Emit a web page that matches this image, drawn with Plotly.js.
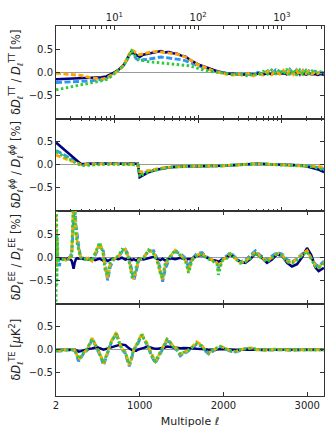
<!DOCTYPE html>
<html><head><meta charset="utf-8">
<script src="https://cdn.plot.ly/plotly-3.0.1.min.js"></script>
<style>html,body{margin:0;padding:0;background:#fff}#chart{width:333px;height:439px}</style>
</head><body><div id="chart"></div>
<script>
// ---- Panel 1: TT (log multipole axis) ----
const ellTT = [2,3,4,5,6,7,8,9,10,11,12,13,14,15,16,17,18,20,22,25,28,32,36,40,45,50,56,63,70,80,90,100,115,130,150,175,200,230,260,300,350,400,460,520,600,680,760,850,950,1050,1150,1250,1380,1500,1650,1800,1950,2100,2300,2500,2700,2900,3100,3200];
const ttNavy = [-0.15,-0.14,-0.13,-0.13,-0.12,-0.11,-0.09,-0.05,0.0,0.04,0.10,0.17,0.27,0.38,0.44,0.42,0.38,
  0.33,0.38,0.40,0.42,0.44,0.46,0.43,0.44,0.41,0.40,0.36,0.34,0.27,0.21,0.17,
  0.13,0.09,0.05,0.01,-0.01,-0.03,-0.03,-0.05,
  -0.05,-0.04,-0.06,-0.03,-0.05,-0.02,-0.04,-0.01,-0.03,
  -0.02,-0.04,-0.01,-0.03,-0.02,-0.04,-0.03,-0.05,-0.03,-0.05,-0.04,-0.06,-0.04,-0.05,-0.06];
const ttOrange = [-0.02,-0.04,-0.07,-0.11,-0.14,-0.15,-0.13,-0.08,-0.02,0.03,0.09,0.17,0.28,0.40,0.48,0.46,0.42,
  0.38,0.40,0.42,0.44,0.45,0.44,0.42,0.41,0.40,0.39,0.36,0.33,0.27,0.21,0.16,
  0.12,0.08,0.03,0.0,-0.03,-0.05,-0.06,-0.04,
  -0.07,-0.03,-0.08,-0.02,-0.06,0.02,-0.05,0.03,-0.04,
  0.04,-0.06,0.03,-0.05,0.04,-0.07,0.03,-0.03,0.02,-0.04,0.01,-0.03,0.0,-0.02,-0.03];
const ttBlue = [-0.22,-0.21,-0.2,-0.19,-0.17,-0.16,-0.13,-0.07,-0.01,0.03,0.09,0.16,0.26,0.36,0.44,0.38,0.30,
  0.24,0.27,0.28,0.30,0.32,0.33,0.32,0.31,0.30,0.28,0.27,0.25,0.21,0.17,0.13,
  0.1,0.07,0.04,0.01,-0.01,-0.03,-0.04,-0.03,
  -0.04,-0.02,-0.05,0.0,-0.04,0.03,-0.03,0.05,-0.02,
  0.05,-0.03,0.06,-0.04,0.05,-0.05,0.04,-0.02,0.03,-0.03,0.02,-0.02,0.01,-0.01,-0.02];
const ttGreen = [-0.38,-0.31,-0.27,-0.24,-0.21,-0.19,-0.16,-0.1,-0.03,0.02,0.08,0.15,0.26,0.38,0.46,0.40,0.32,
  0.27,0.25,0.23,0.22,0.21,0.20,0.20,0.19,0.19,0.18,0.17,0.16,0.14,0.11,0.08,
  0.05,0.03,0.01,0.0,-0.02,-0.03,-0.05,-0.04,
  -0.05,-0.09,-0.03,-0.07,0.02,-0.04,0.05,-0.03,0.06,
  -0.05,0.07,-0.06,0.06,-0.07,0.05,-0.04,0.04,-0.03,0.03,-0.02,0.02,-0.01,0.0,-0.01];

// ---- Panel 2: lensing potential (log multipole axis) ----
const ellPP = [2,4,5,6,8,10,12,14,16,18,19,20,22,25,30,35,40,50,60,70,80,100,130,160,200,250,300,400,500,700,1000,1300,1600,2000,2400,2800,3200];
const ppNavy = [0.48,0.01,0.02,0.02,0.03,0.03,0.03,0.02,0.02,0.02,0.02,-0.27,-0.22,-0.17,-0.12,-0.09,-0.07,-0.05,-0.04,-0.03,-0.03,-0.03,-0.03,-0.02,-0.02,-0.01,0.0,0.02,0.02,0.01,0.0,-0.01,-0.01,-0.04,-0.07,-0.11,-0.16];
const ppOrange = [0.21,0.0,0.01,0.02,0.02,0.02,0.02,0.01,0.01,0.01,0.01,-0.15,-0.15,-0.13,-0.1,-0.08,-0.06,-0.05,-0.04,-0.03,-0.03,-0.03,-0.02,-0.02,-0.02,-0.01,0.0,0.02,0.02,0.01,0.0,-0.01,-0.01,-0.02,-0.03,-0.04,-0.06];
const ppBlue = [0.31,0.01,0.02,0.03,0.03,0.03,0.03,0.02,0.02,0.02,0.02,-0.22,-0.19,-0.15,-0.11,-0.08,-0.07,-0.05,-0.04,-0.03,-0.03,-0.03,-0.02,-0.02,-0.02,-0.01,0.0,0.02,0.02,0.01,0.0,-0.01,-0.01,-0.02,-0.04,-0.06,-0.09];
const ppGreen = [0.28,-0.02,-0.01,0.0,0.01,0.01,0.01,0.0,0.0,0.0,0.0,-0.26,-0.2,-0.16,-0.12,-0.09,-0.07,-0.05,-0.04,-0.03,-0.03,-0.03,-0.03,-0.02,-0.02,-0.01,0.0,0.02,0.02,0.01,0.0,-0.01,-0.02,-0.03,-0.05,-0.08,-0.11];

// ---- Panel 3: EE (linear multipole axis) ----
const ellEE = [2,4,6,9,13,18,25,40,
  60,90,120,150,175,190,200,212,225,240,255,272,292,
  331,391,431,471,522,563,590,618,650,690,749,789,829,868,909,930,960,988,1047,1107,1167,1215,1247,1274,1306,1366,1425,1485,1545,1584,
  1625,1684,1744,1804,1864,1923,1940,1983,2043,2082,2142,2201,2261,2321,2381,2440,2520,2580,2640,2699,2759,2818,2878,2938,2997,3048,3096,3136,3200];
const eeNavy = [0.0,-0.03,0.0,-0.02,0.0,-0.03,-0.02,-0.03,
  -0.03,-0.02,-0.04,-0.03,-0.05,-0.08,-0.15,-0.25,-0.12,-0.04,-0.02,-0.03,-0.02,
  -0.03,-0.05,-0.02,-0.06,-0.03,-0.07,-0.04,-0.08,-0.05,-0.02,-0.04,-0.01,-0.05,-0.03,-0.06,-0.04,-0.07,-0.03,-0.05,-0.02,0.01,-0.04,-0.06,-0.03,-0.07,-0.02,-0.04,-0.01,-0.05,-0.04,
  -0.04,0.03,0.05,-0.01,-0.06,-0.08,-0.1,-0.05,0.0,0.06,-0.02,-0.1,-0.12,-0.04,0.08,0.02,-0.12,-0.05,0.06,0.03,-0.12,-0.2,-0.15,0.0,0.2,0.05,-0.22,-0.3,-0.23];
const eeOrange = [0.9,-0.3,0.7,-0.1,0.4,0.1,-0.05,-0.05,
  -0.05,-0.04,-0.06,-0.03,0.0,0.05,0.7,1.3,1.1,0.55,0.35,0.2,0.02,
  -0.05,-0.02,-0.08,0.09,0.3,0.12,-0.26,-0.45,-0.12,-0.04,0.02,0.15,0.17,0.0,-0.4,-0.47,-0.22,-0.05,-0.02,0.15,0.1,-0.1,-0.32,-0.5,-0.15,0.02,0.15,0.05,-0.05,-0.3,
  -0.05,0.05,0.08,-0.02,-0.05,-0.12,-0.3,-0.06,0.0,0.08,-0.02,-0.12,-0.08,0.0,0.12,0.02,-0.08,0.0,0.08,0.05,-0.08,-0.12,-0.04,0.05,0.14,-0.02,-0.18,-0.22,-0.1];
const eeBlue = [0.5,-0.1,0.6,-0.2,0.3,0.0,-0.05,-0.19,
  -0.06,-0.03,-0.05,-0.02,0.02,0.1,0.6,1.2,1.25,0.7,0.45,0.25,0.05,
  -0.04,0.0,-0.06,0.05,0.25,0.18,-0.15,-0.5,-0.2,-0.05,0.0,0.12,0.17,0.05,-0.3,-0.5,-0.3,-0.08,0.0,0.13,0.14,-0.05,-0.25,-0.53,-0.25,0.0,0.12,0.08,-0.02,-0.22,
  -0.03,0.08,0.1,0.0,-0.04,-0.1,-0.25,-0.03,0.03,0.1,0.0,-0.1,-0.06,0.03,0.14,0.04,-0.06,0.03,0.1,0.07,-0.05,-0.1,-0.03,0.07,0.16,0.0,-0.15,-0.2,-0.08];
const eeGreen = [-1.5,1.5,-1.2,0.9,-0.6,0.5,-0.1,-0.05,
  -0.04,-0.05,-0.06,-0.04,-0.02,0.03,0.8,1.4,1.05,0.5,0.3,0.18,0.0,
  -0.06,-0.03,-0.08,0.1,0.32,0.1,-0.3,-0.4,-0.1,-0.03,0.03,0.17,0.14,-0.03,-0.42,-0.4,-0.18,-0.04,-0.03,0.16,0.08,-0.12,-0.35,-0.45,-0.12,0.03,0.16,0.03,-0.06,-0.34,
  -0.07,0.03,0.07,-0.03,-0.07,-0.15,-0.38,-0.08,-0.02,0.07,-0.04,-0.13,-0.1,-0.02,0.1,0.0,-0.1,-0.02,0.07,0.03,-0.1,-0.13,-0.06,0.04,0.12,-0.04,-0.2,-0.24,-0.12];

// ---- Panel 4: TE (linear multipole axis) ----
const ellTE = [2,50,100,150,200,232,252,272,300,331,372,400,432,460,491,530,570,600,640,670,700,722,750,770,800,830,855,877,900,930,960,976,1000,1028,1050,1080,1110,1140,1187,1220,1260,1300,1327,1360,1400,1446,1485,1520,1565,1620,1680,1740,1790,1823,1880,1961,2020,2080,2142,2200,2260,2330,2400,2500,2600,2700,2800,2900,3000,3100,3200];
const teNavy = [0.0,0.0,0.0,0.0,0.0,0.0,-0.02,-0.04,-0.03,-0.01,
  0.0,0.02,0.03,0.05,0.06,0.03,0.0,0.02,0.04,0.05,
  0.06,0.07,0.1,0.12,0.11,0.1,0.06,0.02,0.0,-0.02,
  -0.02,0.0,0.02,0.03,0.04,0.06,0.06,0.04,0.02,0.02,
  0.03,0.05,0.07,0.06,0.05,0.03,0.03,0.04,0.04,0.03,
  0.02,0.02,0.01,0.0,0.01,0.01,0.01,0.0,0.0,0.0,
  0.0,0.0,0.0,0.0,0.0,0.0,0.0,0.0,0.0,0.0,0.0];
const teOrange = [0.0,-0.02,0.0,0.01,0.0,-0.02,-0.12,-0.22,-0.15,-0.07,
  0.0,0.12,0.25,0.15,0.05,-0.1,-0.3,-0.15,0.05,0.22,
  0.3,0.38,0.2,0.1,0.0,-0.05,-0.2,-0.33,-0.2,0.0,
  0.1,0.15,0.25,0.35,0.25,0.17,0.05,-0.1,-0.26,-0.15,
  0.0,0.15,0.23,0.18,0.08,0.02,-0.1,-0.05,-0.03,0.05,
  0.17,0.1,-0.02,-0.07,0.0,0.08,0.04,-0.02,-0.04,0.0,
  0.03,0.04,0.0,-0.01,0.01,0.0,-0.01,0.0,0.0,0.0,0.0];
const teBlue = [-0.03,-0.03,-0.01,0.0,-0.01,-0.03,-0.15,-0.25,-0.17,-0.08,
  -0.02,0.1,0.22,0.14,0.03,-0.13,-0.33,-0.18,0.02,0.2,
  0.28,0.36,0.2,0.08,-0.02,-0.08,-0.24,-0.36,-0.22,-0.02,
  0.08,0.12,0.22,0.32,0.24,0.14,0.02,-0.13,-0.29,-0.18,
  -0.03,0.12,0.2,0.16,0.05,-0.01,-0.13,-0.08,-0.05,0.03,
  0.12,0.08,-0.04,-0.09,-0.02,0.06,0.02,-0.03,-0.05,-0.01,
  0.02,0.03,0.0,-0.01,0.0,0.0,-0.01,0.0,0.0,0.0,0.0];
const teGreen = [-0.01,-0.02,0.0,0.0,0.0,-0.02,-0.13,-0.2,-0.14,-0.06,
  0.01,0.13,0.24,0.16,0.04,-0.12,-0.28,-0.14,0.06,0.21,
  0.29,0.35,0.18,0.09,0.0,-0.06,-0.22,-0.3,-0.18,0.01,
  0.1,0.14,0.24,0.33,0.24,0.15,0.04,-0.12,-0.25,-0.14,
  0.0,0.16,0.22,0.17,0.07,0.01,-0.1,-0.06,-0.03,0.04,
  0.13,0.09,-0.03,-0.06,0.01,0.07,0.03,-0.02,-0.04,0.0,
  0.02,0.03,0.01,0.0,0.01,0.0,0.0,0.0,0.0,0.0,0.0];

// ---- tick labels ----
const logTickVals = [10,100,1000];
const logTickText = ['10<sup>1</sup>','10<sup>2</sup>','10<sup>3</sup>'];
const linTickVals = [2,1000,2000,3000];
const linTickText = ['2','1000','2000','3000'];
const yTickVals = [-0.5,0,0.5];
const yTickText = ['\u22120.5','0.0','0.5'];

// ---- styles ----
const styles = {
  navy:   {color:'#000080', width:2.5, dash:'solid'},
  blue:   {color:'#2E95F5', width:2.9, dash:'6px,2.5px'},
  orange: {color:'#FFA500', width:2.9, dash:'5px,2.5px'},
  green:  {color:'#2FCB3A', width:2.9, dash:'2.5px,2.5px'}
};
const order = ['blue','navy','orange','green'];

const panels = [
  {ell: ellTT, s: {navy: ttNavy, orange: ttOrange, blue: ttBlue, green: ttGreen}, xa:'x', ya:'y'},
  {ell: ellPP, s: {navy: ppNavy, orange: ppOrange, blue: ppBlue, green: ppGreen}, xa:'x2', ya:'y2'},
  {ell: ellEE, s: {navy: eeNavy, orange: eeOrange, blue: eeBlue, green: eeGreen}, xa:'x3', ya:'y3'},
  {ell: ellTE, s: {navy: teNavy, orange: teOrange, blue: teBlue, green: teGreen}, xa:'x4', ya:'y4'}
];

const traces = [];
panels.forEach(p => {
  order.forEach(k => {
    traces.push({x: p.ell, y: p.s[k], xaxis: p.xa, yaxis: p.ya, type:'scatter', mode:'lines',
      line: styles[k], hoverinfo:'skip', showlegend:false});
  });
});

const FONT = 'DejaVu Sans, sans-serif';
const AX = '#333333';
const logMinor = [3,4,5,6,7,8,9,20,30,40,50,60,70,80,90,200,300,400,500,600,700,800,900,2000,3000];

function xLog(anchor, labels){
  return {type:'log', range:[Math.log10(2), Math.log10(3200)], anchor: anchor, side:'top',
    showline:true, linecolor:AX, linewidth:1, mirror:'allticks', ticks:'inside', ticklen:4, tickcolor:AX,
    tickmode:'array', tickvals: logTickVals, ticktext: logTickText, showticklabels: labels,
    tickfont:{family:FONT, size:10, color:'#222'}, showgrid:false, zeroline:false,
    minor:{ticks:'inside', ticklen:2.5, tickcolor:AX, tickmode:'array', tickvals: logMinor, showgrid:false}};
}
function xLin(anchor, labels){
  return {type:'linear', range:[2,3200], anchor: anchor, side:'bottom',
    showline:true, linecolor:AX, linewidth:1, mirror:'allticks', ticks:'inside', ticklen:4, tickcolor:AX,
    tickmode:'array', tickvals: linTickVals, ticktext: linTickText, showticklabels: labels,
    tickfont:{family:FONT, size:10, color:'#222'}, showgrid:false, zeroline:false};
}
function yAx(dom, anchor, title){
  return {domain: dom, anchor: anchor, range:[-1,1], showline:true, linecolor:AX, linewidth:1, mirror:'allticks',
    ticks:'inside', ticklen:4, tickcolor:AX, tickmode:'array', tickvals: yTickVals, ticktext: yTickText,
    tickfont:{family:FONT, size:10, color:'#222'}, showgrid:false,
    zeroline:true, zerolinecolor:'#9a9a9a', zerolinewidth:1.2,
    title:{text: title, font:{family:FONT, size:11.5, color:'#222'}, standoff:5}};
}

const layout = {
  width:333, height:439, margin:{l:56, r:9, t:26, b:43}, paper_bgcolor:'#fff', plot_bgcolor:'#fff',
  font:{family:FONT, size:10, color:'#222'},
  xaxis: xLog('y', true),
  xaxis2: xLog('y2', false),
  xaxis3: xLin('y3', false),
  xaxis4: Object.assign(xLin('y4', true), {title:{text:'Multipole <i>ℓ</i>', font:{family:FONT, size:11, color:'#222'}, standoff:7}}),
  yaxis: yAx([0.75,1], 'x', 'δ<i>D</i><sub><i>ℓ</i></sub><sup>TT</sup> / <i>D</i><sub><i>ℓ</i></sub><sup>TT</sup> [%]'),
  yaxis2: yAx([0.5,0.75], 'x2', 'δ<i>D</i><sub><i>ℓ</i></sub><sup><i>ϕϕ</i></sup> / <i>D</i><sub><i>ℓ</i></sub><sup><i>ϕϕ</i></sup> [%]'),
  yaxis3: yAx([0.25,0.5], 'x3', 'δ<i>D</i><sub><i>ℓ</i></sub><sup>EE</sup> / <i>D</i><sub><i>ℓ</i></sub><sup>EE</sup> [%]'),
  yaxis4: yAx([0,0.25], 'x4', 'δ<i>D</i><sub><i>ℓ</i></sub><sup>TE</sup> [<i>μ</i>K<sup>2</sup>]')
};

Plotly.newPlot('chart', traces, layout, {displayModeBar:false, staticPlot:true});
</script></body></html>
